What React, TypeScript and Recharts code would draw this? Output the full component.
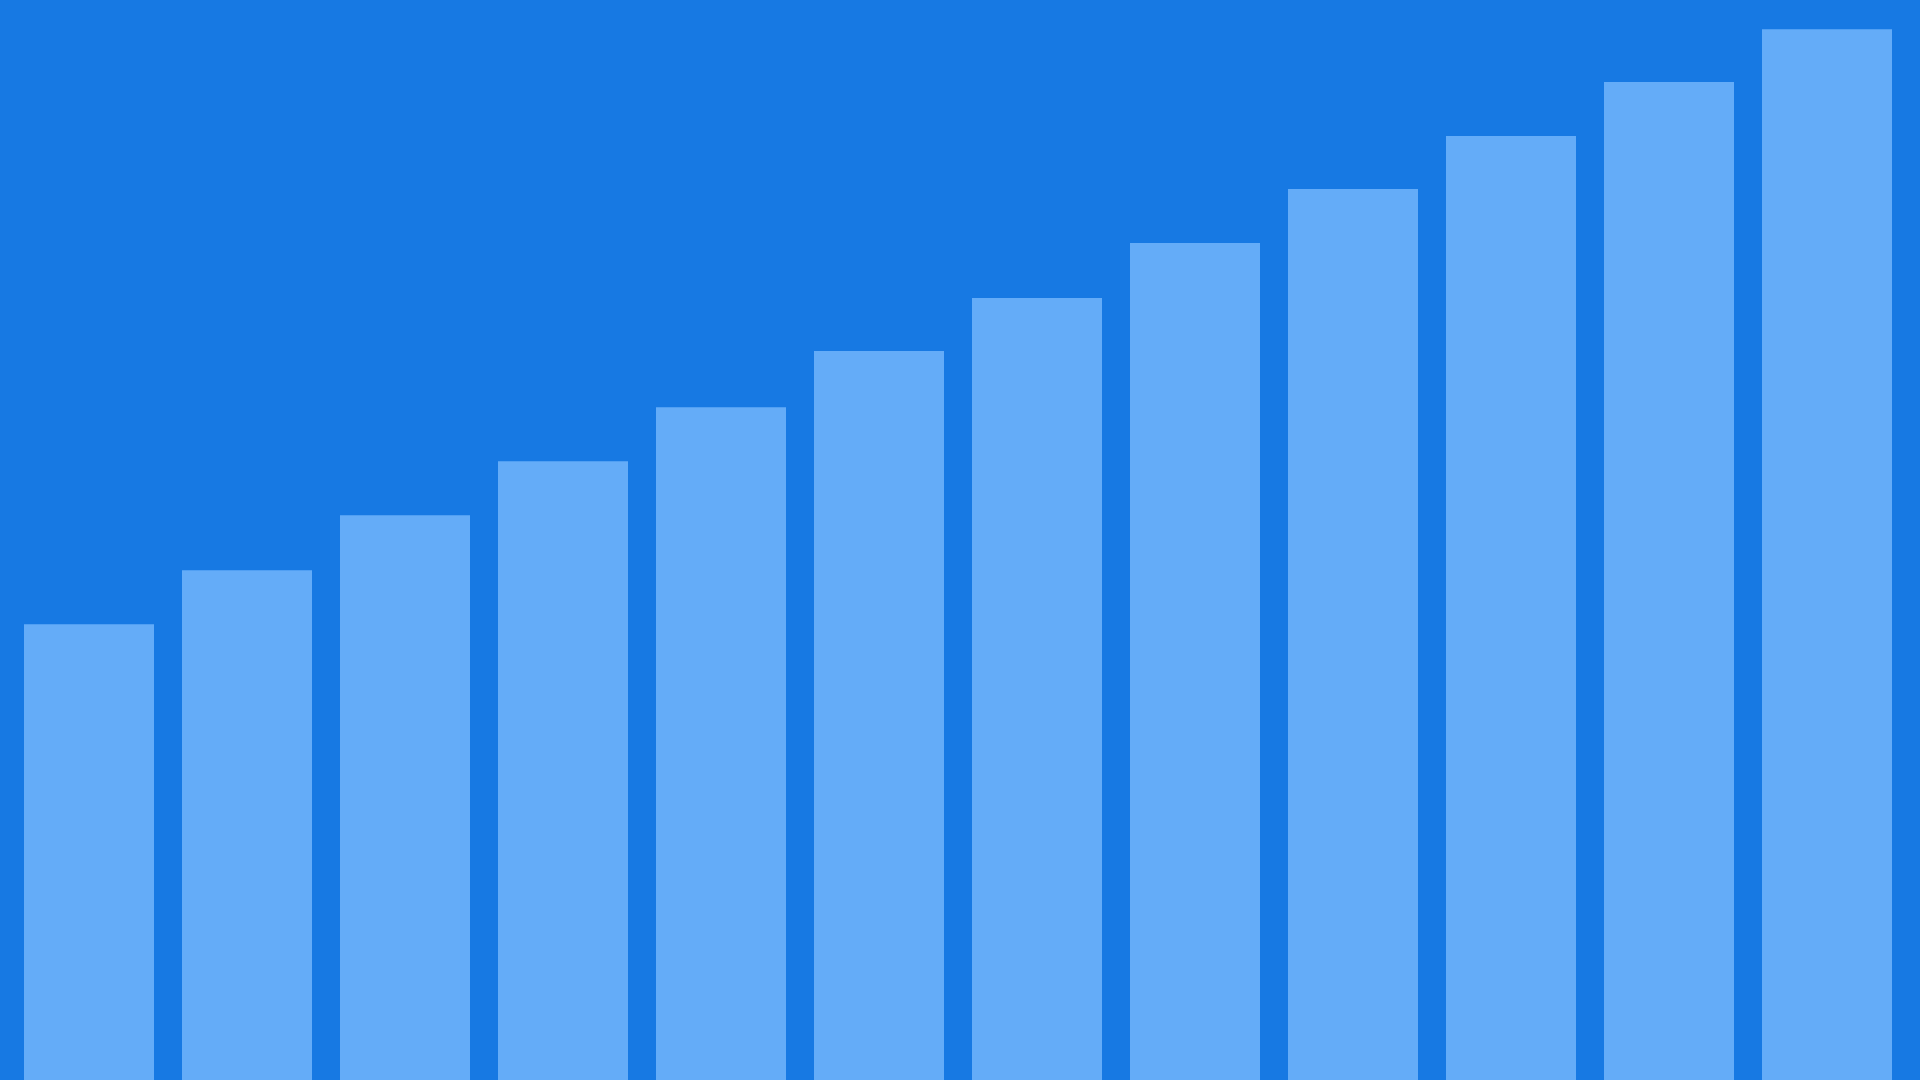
import React from 'react';
import { BarChart, Bar, XAxis, YAxis } from 'recharts';

// twelve periods, no labels are drawn in the chart
const PERIODS = ['P1', 'P2', 'P3', 'P4', 'P5', 'P6', 'P7', 'P8', 'P9', 'P10', 'P11', 'P12'];
const VALUES = [42.2, 47.2, 52.3, 57.3, 62.3, 67.5, 72.4, 77.5, 82.5, 87.4, 92.4, 97.3];

const BG = '#1779E3';
const BAR = '#64ACF8';

const data = PERIODS.map((name, i) => ({ name, value: VALUES[i] }));

export default function App() {
  return (
    <div
      style={{
        position: 'fixed',
        top: 0,
        left: 0,
        width: 1920,
        height: 1080,
        background: BG,
        overflow: 'hidden',
      }}
    >
      <BarChart
        width={1920}
        height={1080}
        data={data}
        margin={{ top: 0, right: 14, bottom: 0, left: 10 }}
        barCategoryGap={14}
      >
        <XAxis dataKey="name" hide />
        <YAxis hide domain={[0, 100]} />
        <Bar dataKey="value" fill={BAR} isAnimationActive={false} />
      </BarChart>
    </div>
  );
}
